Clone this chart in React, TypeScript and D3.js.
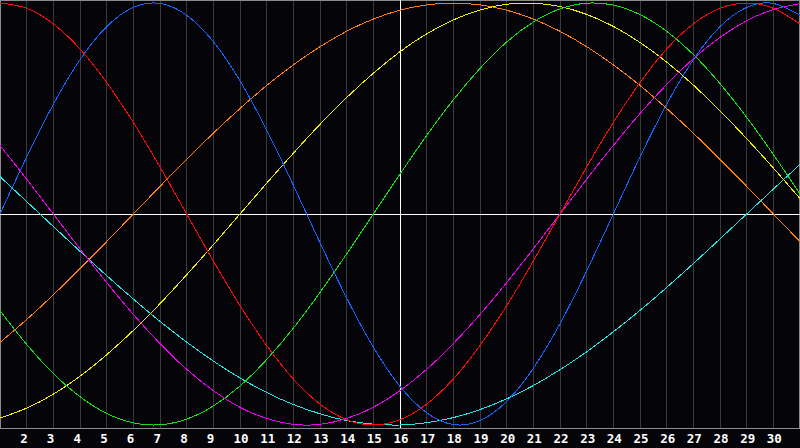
import React from "react";
import * as d3 from "d3";

// days of the month shown on the x axis
const days = d3.range(1, 32);
const tickLabels = d3.range(2, 31).map(String);

// cycle values in percent, one per day (day 1 .. day 31)
const physical = [0, 27, 52, 73.1, 88.8, 97.9, 99.8, 94.2, 81.7, 63.1, 39.8, 13.6, -13.6, -39.8, -63.1, -81.7, -94.2, -99.8, -97.9, -88.8, -73.1, -52, -27, 0, 27, 52, 73.1, 88.8, 97.9, 99.8, 94.2];
const emotional = [100, 97.5, 90.1, 78.2, 62.3, 43.4, 22.3, 0, -22.3, -43.4, -62.3, -78.2, -90.1, -97.5, -100, -97.5, -90.1, -78.2, -62.3, -43.4, -22.3, 0, 22.3, 43.4, 62.3, 78.2, 90.1, 97.5, 100, 97.5, 90.1];
const intellectual = [-45.8, -61.8, -75.6, -86.6, -94.5, -99, -99.9, -97.2, -91, -81.5, -69, -54.1, -37.2, -18.9, 0, 18.9, 37.2, 54.1, 69, 81.5, 91, 97.2, 99.9, 99, 94.5, 86.6, 75.6, 61.8, 45.8, 28.2, 9.5];
const intuitive = [32.5, 16.5, 0, -16.5, -32.5, -47.6, -61.4, -73.6, -83.7, -91.6, -96.9, -99.7, -99.7, -96.9, -91.6, -83.7, -73.6, -61.4, -47.6, -32.5, -16.5, 0, 16.5, 32.5, 47.6, 61.4, 73.6, 83.7, 91.6, 96.9, 99.7];
const aesthetic = [-96.7, -92, -85.4, -76.9, -66.7, -55.2, -42.5, -28.8, -14.6, 0, 14.6, 28.8, 42.5, 55.2, 66.7, 76.9, 85.4, 92, 96.7, 99.4, 99.9, 98.3, 94.6, 88.9, 81.3, 72, 61.1, 48.9, 35.7, 21.8, 7.3];
const awareness = [-60.9, -50, -38.3, -25.9, -13.1, 0, 13.1, 25.9, 38.3, 50, 60.9, 70.7, 79.3, 86.6, 92.4, 96.6, 99.1, 100, 99.1, 96.6, 92.4, 86.6, 79.3, 70.7, 60.9, 50, 38.3, 25.9, 13.1, 0, -13.1];
const spiritual = [17.7, 5.9, -5.9, -17.7, -29.2, -40.3, -50.9, -60.7, -69.7, -77.7, -84.6, -90.3, -94.7, -97.9, -99.6, -100, -98.9, -96.5, -92.7, -87.6, -81.3, -73.8, -65.3, -55.8, -45.7, -34.8, -23.5, -11.8, 0, 11.8, 23.5];

const today = 16;

const series = [
  { name: "spiritual", values: spiritual, color: "#22e6e6" },
  { name: "awareness", values: awareness, color: "#ff8010" },
  { name: "aesthetic", values: aesthetic, color: "#f0f000" },
  { name: "intellectual", values: intellectual, color: "#16e016" },
  { name: "intuitive", values: intuitive, color: "#f000f0" },
  { name: "physical", values: physical, color: "#1466ff" },
  { name: "emotional", values: emotional, color: "#ff0a0a" },
];

const W = 800;
const H = 448;
const plotBottom = 428;

export default function App() {
  const x = d3.scaleLinear().domain([1, 31]).range([0, W]);
  const y = d3.scaleLinear().domain([-100, 100]).range([425, 3]);

  const line = d3
    .line<number>()
    .x((d, i) => x(days[i]))
    .y((d) => y(d))
    .curve(d3.curveNatural);

  return (
    <svg
      width={W}
      height={H}
      style={{ position: "absolute", left: 0, top: 0, background: "#050408" }}
    >
      <rect x={0} y={0} width={W} height={H} fill="#050408" />
      {/* vertical day grid */}
      {days.slice(1, 30).map((d) => (
        <line
          key={d}
          x1={x(d)}
          x2={x(d)}
          y1={0}
          y2={plotBottom}
          stroke="#3a3a3c"
          strokeWidth={1}
          shapeRendering="crispEdges"
        />
      ))}
      {/* frame */}
      <rect
        x={0.5}
        y={0.5}
        width={W - 1}
        height={plotBottom}
        fill="none"
        stroke="#8a8a8a"
        strokeWidth={1}
        shapeRendering="crispEdges"
      />
      {/* zero line and today marker */}
      <line x1={0} x2={W} y1={y(0) + 0.5} y2={y(0) + 0.5} stroke="#ffffff" strokeWidth={1} shapeRendering="crispEdges" />
      <line x1={x(today) + 0.5} x2={x(today) + 0.5} y1={0} y2={plotBottom} stroke="#ffffff" strokeWidth={1} shapeRendering="crispEdges" />
      {/* cycles */}
      {series.map((s) => (
        <path
          key={s.name}
          d={line(s.values) || ""}
          fill="none"
          stroke={s.color}
          strokeWidth={1}
          shapeRendering="crispEdges"
        />
      ))}
      {/* day labels */}
      {tickLabels.map((t) => (
        <text
          key={t}
          x={x(+t) - 6.5}
          y={443}
          fill="#ffffff"
          fontFamily="'DejaVu Sans Mono', monospace"
          fontWeight="bold"
          fontSize={12.5}
        >
          {t}
        </text>
      ))}
    </svg>
  );
}
